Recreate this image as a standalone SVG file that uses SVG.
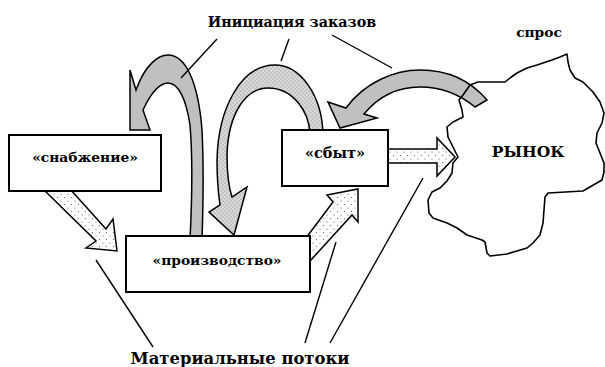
<svg xmlns="http://www.w3.org/2000/svg" width="605" height="367" viewBox="0 0 605 367">
<style>
.box{fill:#fff;stroke:#000;stroke-width:2}
text{font-family:'DejaVu Serif',serif;font-weight:bold;font-size:13.8px;fill:#000;text-anchor:middle}
.arcS{fill:#c0c0c0;stroke:#000;stroke-width:1.5;stroke-linejoin:miter}
.arcD{fill:url(#dotG);stroke:#000;stroke-width:1.5}
.flow{fill:url(#dotW);stroke:#000;stroke-width:1.5}
.lead{stroke:#000;stroke-width:1.4;fill:none}
.cloud{fill:none;stroke:#000;stroke-width:1.6;stroke-linejoin:round}
</style>
<defs>
<pattern id="dotW" width="7" height="7" patternUnits="userSpaceOnUse"><rect width="7" height="7" fill="#fff"/><circle cx="1.5" cy="1.5" r="0.6" fill="#555"/><circle cx="5" cy="5" r="0.6" fill="#555"/></pattern>
<pattern id="dotG" width="4" height="4" patternUnits="userSpaceOnUse"><rect width="4" height="4" fill="#c4c4c4"/><circle cx="1" cy="1" r="0.65" fill="#fff"/><circle cx="3" cy="3" r="0.65" fill="#fff"/></pattern>
</defs>
<rect width="605" height="367" fill="#fff"/>
<g id="connectors">
<path class="arcS" d="M136,90 C145,65 158,55 168,55 C185,55 198,80 202,130 C204,170 203,210 202,240 L190,240 C192,200 193,160 190,125 C186,98 178,83 168,83 C158,83 150,95 143,110 L150,130 L130,130 L130,70 Z"/>
<path class="arcD" d="M323,134 C322,95 300,65 275,65 C240,65 218,110 217,160 C217,185 219,198 220,205 L209,212 L234,235 L247,187 L232,197 C228,185 227,170 227,155 C228,115 245,88 268,88 C292,88 309,110 310,134 Z"/>
<path class="arcS" d="M487,100 C470,80 448,70 420,70 C395,70 365,82 346,108 L328,102 L340,128 L377,118 L364,114 C378,97 395,87 420,87 C440,87 458,93 475,107 Z"/>
<polygon class="flow" points="43,189 70,189 106,229 113,219 117,251 86,248 96,241"/>
<polygon class="flow" points="300,246 333,202 327,195 358,189 358,222 352,215 300,272"/>
<polygon class="flow" points="386,149 437,149 437,138 455,157 437,176 437,163 386,163"/>
<line class="lead" x1="217" y1="39" x2="181" y2="78"/>
<line class="lead" x1="289" y1="39" x2="281" y2="61"/>
<line class="lead" x1="332" y1="35" x2="392" y2="68"/>
<line class="lead" x1="96" y1="260" x2="153" y2="347"/>
<line class="lead" x1="336" y1="242" x2="305" y2="343"/>
<line class="lead" x1="423" y1="178" x2="330" y2="343"/>
</g>
<g id="snabzhenie">
<rect class="box" x="9" y="135" width="152" height="56"/>
<text x="85" y="162">«снабжение»</text>
</g>
<g id="proizvodstvo">
<rect class="box" x="126" y="236" width="184" height="56"/>
<text x="217" y="265">«производство»</text>
</g>
<g id="sbyt">
<rect class="box" x="282" y="130" width="106" height="56"/>
<text x="335" y="158" style="font-size:14.5px">«сбыт»</text>
</g>
<g id="rynok">
<path class="cloud" d="M567,54 L568,62 L570,70 L575,78 L583,82 L593,92 L600,102 L604,113 L602,123 L597,133 L596,143 L600,153 L604,163 L604,172 L602,180 L583,191 L548,193 L545,197 L543,223 L540,235 L533,243 L527,248 L507,254 L490,256 L487,253 L485,242 L482,240 L467,235 L457,228 L447,223 L433,218 L429,213 L428,200 L432,192 L440,188 L447,181 L452,173 L453,163 L458,157 L453,147 L448,137 L447,127 L453,122 L463,117 L462,110 L459,100 L463,95 L470,85 L478,82 L487,82 L505,82 L510,78 L517,73 L527,68 L537,65 L552,60 L560,57 Z"/>
<text x="528" y="157" style="font-size:15.5px">РЫНОК</text>
</g>
<g id="labels">
<text x="292" y="27" style="font-size:14.3px">Инициация заказов</text>
<text x="539" y="37">спрос</text>
<text x="240" y="364" style="font-size:16.4px">Материальные потоки</text>
</g>
</svg>
